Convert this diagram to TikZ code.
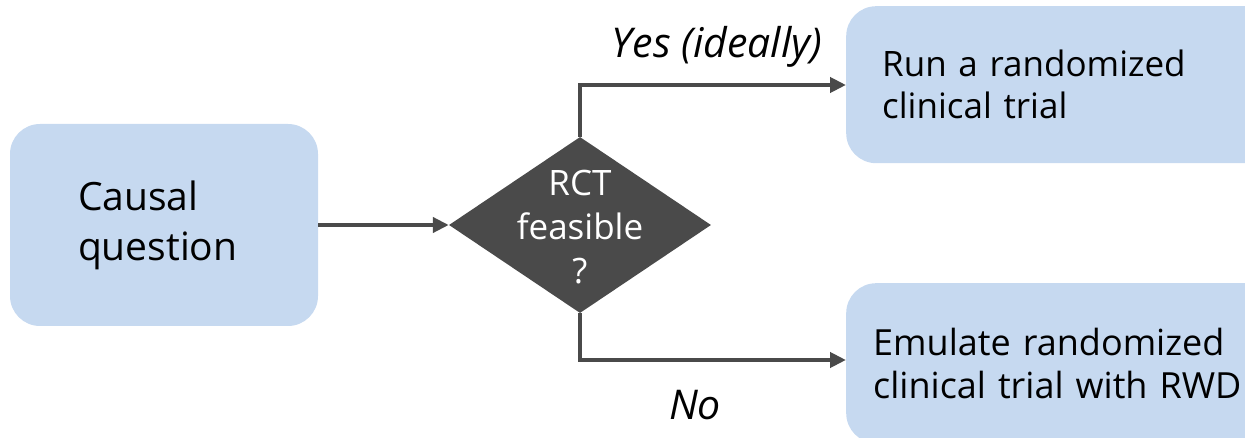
\documentclass[tikz,border=0pt]{standalone}
\usepackage{fontspec}
\setmainfont{Open Sans}
\usetikzlibrary{shapes.geometric,arrows.meta}
\definecolor{boxblue}{HTML}{C6D9F0}
\definecolor{dgray}{HTML}{4A4A4A}
\tikzset{
  bluebox/.style={fill=boxblue, draw=none, rounded corners=30pt, inner sep=0pt},
  conn/.style={draw=dgray, line width=4pt, -{Triangle[length=16pt,width=15pt]}},
  lab/.style={font=\fontsize{41}{46}\selectfont\itshape, inner sep=0pt},
}
\begin{document}
\begin{tikzpicture}[x=1pt,y=-1pt]
\useasboundingbox (0,0) rectangle (1245,438);
\clip (0,0) rectangle (1245,438);
\node[bluebox, minimum width=308pt, minimum height=202pt, text width=172pt, align=left,
      font=\fontsize{39}{50}\selectfont] (cq) at (164,225) {Causal\\question};
\node[fill=dgray, diamond, minimum width=262pt, minimum height=176pt, inner sep=0pt] (d) at (580,225) {};
\node[text=white, align=center, inner sep=0pt, font=\fontsize{35}{44}\selectfont] (dt) at ([yshift=-2pt]d.center) {RCT\\feasible\\?};
\node[bluebox, anchor=north west, minimum width=430pt, minimum height=157pt,
      text width=358pt, align=left, font=\fontsize{35}{42}\selectfont] (rct) at (846,6) {Run a randomized\\clinical trial};
\node[bluebox, anchor=north west, minimum width=430pt, minimum height=160pt,
      text width=376pt, align=left, font=\fontsize{36}{43}\selectfont] (em) at (846,283) {Emulate randomized\\clinical trial with RWD};
\coordinate (y1) at (580,85);
\coordinate (n1) at (580,360);
\draw[conn] (cq.east) -- (d.west);
\draw[conn] (d.north) -- (y1) -- (rct.west |- y1);
\draw[conn] (d.south) -- (n1) -- (em.west |- n1);
\node[lab] (yes) at (717,47) {Yes (ideally)};
\node[lab] (no) at (695,405) {No};
\end{tikzpicture}
\end{document}
